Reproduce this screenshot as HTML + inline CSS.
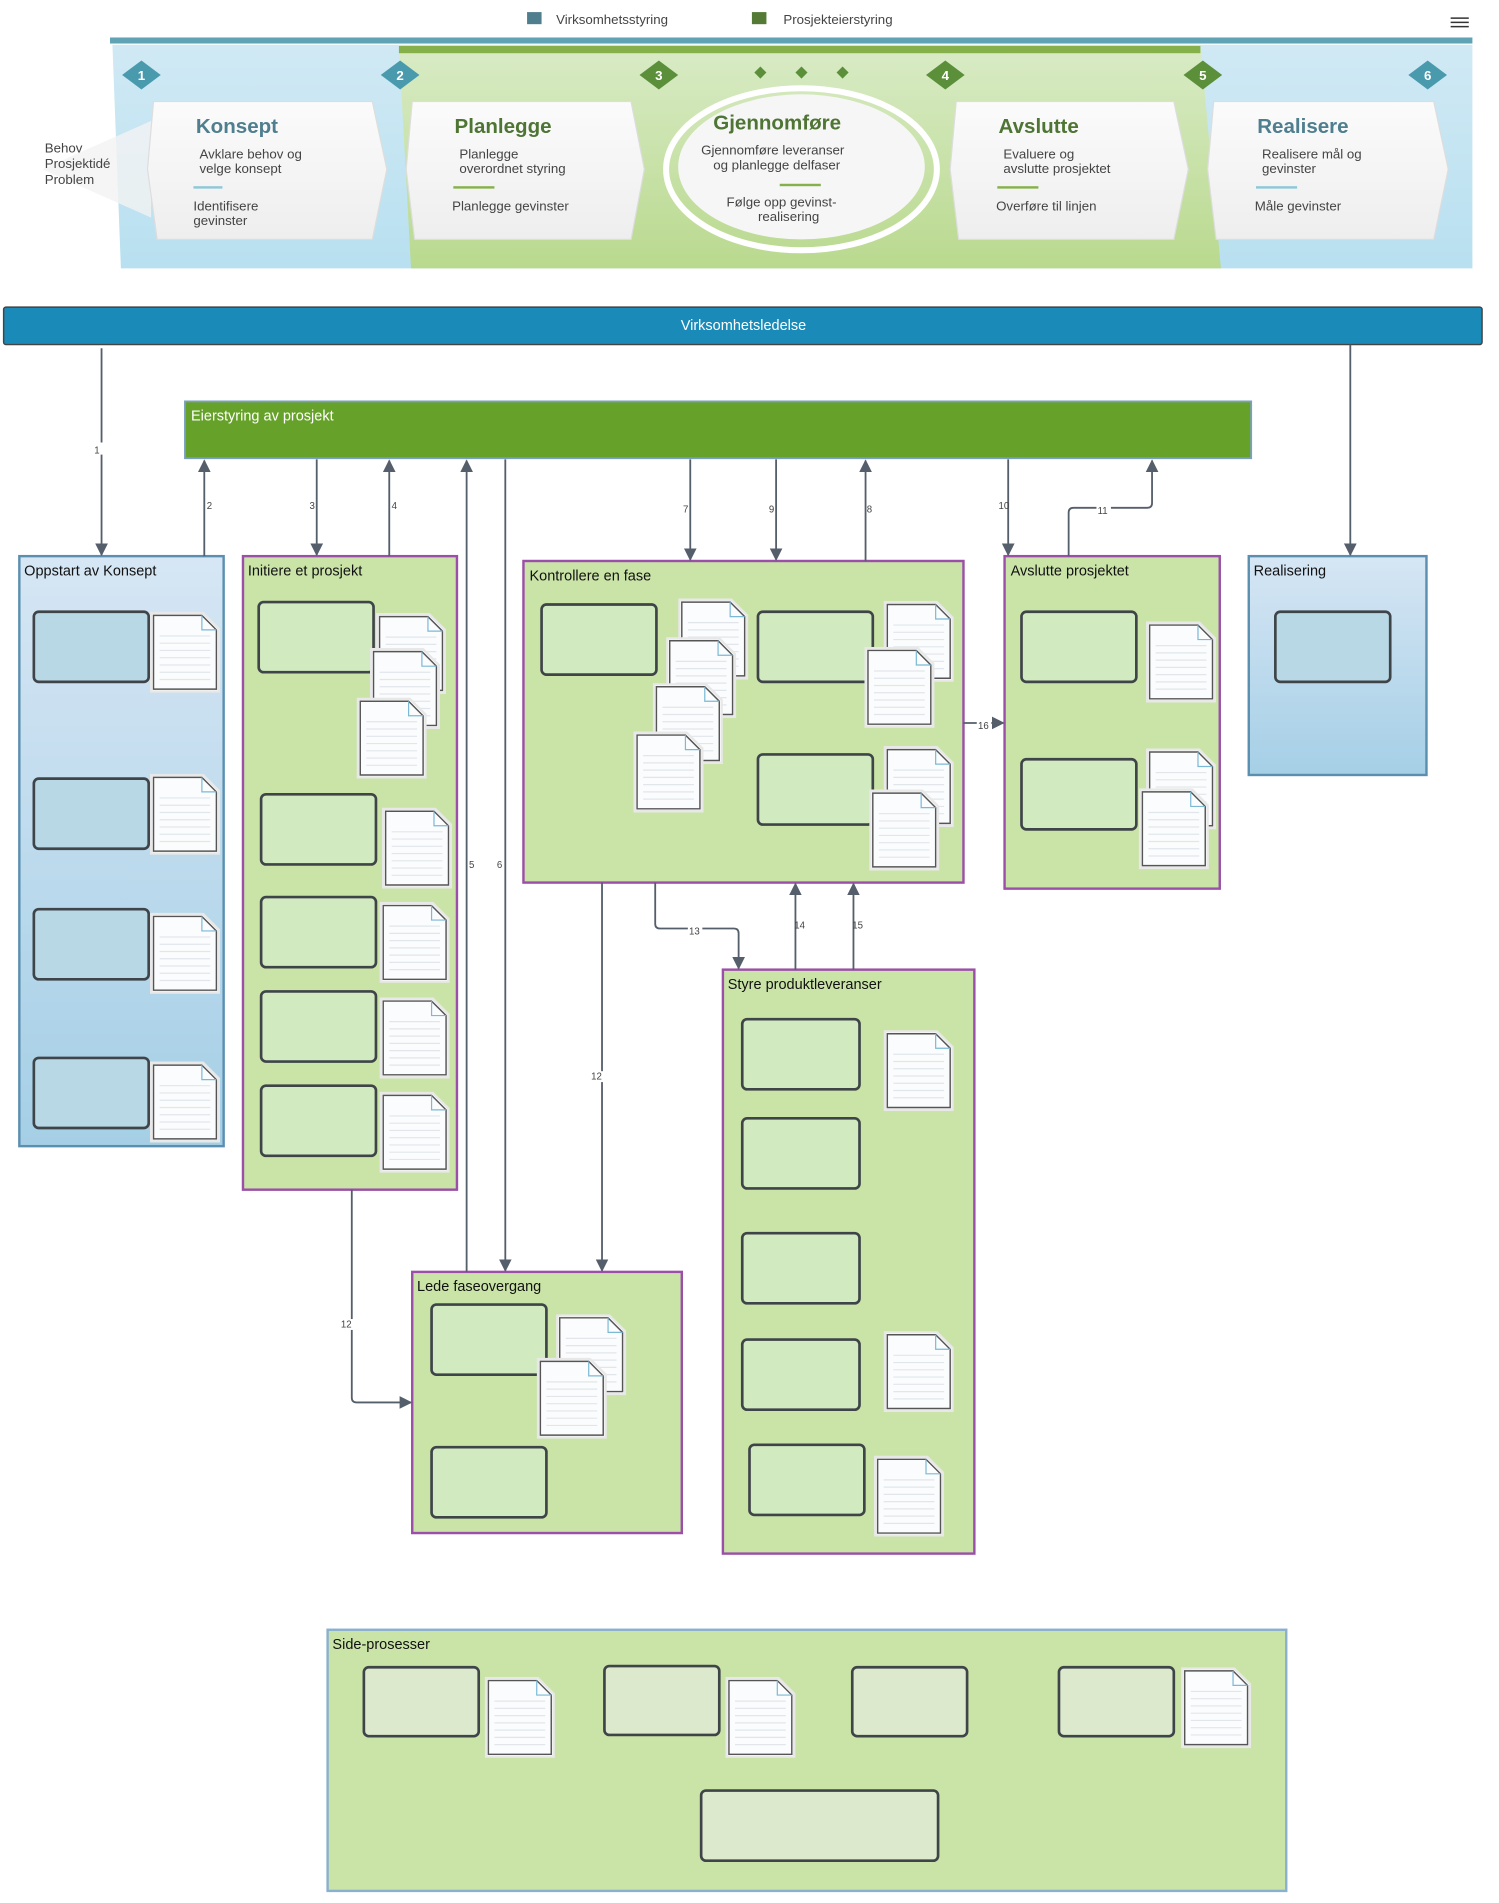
<!DOCTYPE html>
<html><head><meta charset="utf-8"><style>
html,body{margin:0;padding:0;background:#fff;}
svg{display:block;font-family:"Liberation Sans",sans-serif;}
</style></head><body>
<svg width="1499" height="1903" viewBox="0 0 1240 1574" preserveAspectRatio="none" xmlns="http://www.w3.org/2000/svg">
<defs>
<linearGradient id="gb" x1="0" y1="0" x2="0" y2="1"><stop offset="0" stop-color="#d6e6f4"/><stop offset="1" stop-color="#a5cfe6"/></linearGradient>
<linearGradient id="gg" x1="0" y1="0" x2="0" y2="1"><stop offset="0" stop-color="#d9ebc6"/><stop offset="1" stop-color="#b9d98e"/></linearGradient>
<linearGradient id="gbl" x1="0" y1="0" x2="0" y2="1"><stop offset="0" stop-color="#d0e9f4"/><stop offset="1" stop-color="#b8e0f0"/></linearGradient>
<linearGradient id="card" x1="0" y1="0" x2="0" y2="1"><stop offset="0" stop-color="#fbfbfb"/><stop offset="1" stop-color="#eeeeee"/></linearGradient>
<symbol id="doc" viewBox="0 0 58 67" width="58" height="67">
<polygon points="1,1 44,1 57,14 57,66 1,66" fill="#fff" stroke="#e8e8e8" stroke-width="2"/>
<polygon points="3,3 43,3 55,15 55,64 3,64" fill="#fbfcfd" stroke="#555" stroke-width="1.2"/>
<path d="M43,3 L43,15 L55,15" fill="none" stroke="#7bb9d6" stroke-width="1"/>
<g stroke="#e2e6ea" stroke-width="1"><line x1="8" y1="20" x2="50" y2="20"/><line x1="8" y1="26" x2="50" y2="26"/><line x1="8" y1="32" x2="50" y2="32"/><line x1="8" y1="38" x2="50" y2="38"/><line x1="8" y1="44" x2="50" y2="44"/><line x1="8" y1="50" x2="50" y2="50"/><line x1="8" y1="56" x2="50" y2="56"/></g>
</symbol>
<marker id="ar" viewBox="0 0 10 10" refX="9" refY="5" markerWidth="7" markerHeight="7" orient="auto"><path d="M0,0 L10,5 L0,10 z" fill="#555e6b"/></marker>
</defs>

<!-- legend -->
<rect x="436" y="10" width="12" height="10" fill="#4f7f8f"/>
<text x="460" y="20" font-size="11" fill="#444">Virksomhetsstyring</text>
<rect x="622" y="10" width="12" height="10" fill="#557a35"/>
<text x="648" y="20" font-size="11" fill="#444">Prosjekteierstyring</text>
<g stroke="#333" stroke-width="1.3"><line x1="1200" y1="15" x2="1215" y2="15"/><line x1="1200" y1="18.5" x2="1215" y2="18.5"/><line x1="1200" y1="22" x2="1215" y2="22"/></g>

<!-- banner -->
<rect x="91" y="31" width="1127" height="5" fill="#5fa3b5"/>
<polygon points="93,37 1218,37 1218,222 100,222" fill="url(#gbl)"/>
<polygon points="330,38 993,38 1010,222 340,222" fill="url(#gg)"/>
<rect x="330" y="38" width="663" height="6" fill="#86b14a"/>
<polygon points="35,140 125,100 125,180" fill="#f2f2f2" opacity="0.8"/>
<text font-size="11" fill="#444"><tspan x="37" y="126">Behov</tspan><tspan x="37" y="139">Prosjektidé</tspan><tspan x="37" y="152">Problem</tspan></text>

<g>
<polygon points="127,84 308,84 320,140 308,198 130,198 122,140" fill="url(#card)" stroke="#ddd"/>
<polygon points="341,84 522,84 533,140 522,198 343,198 336,140" fill="url(#card)" stroke="#ddd"/>
<polygon points="791,84 971,84 983,140 971,198 793,198 786,140" fill="url(#card)" stroke="#ddd"/>
<polygon points="1004,84 1186,84 1198,140 1186,198 1006,198 999,140" fill="url(#card)" stroke="#ddd"/>
<ellipse cx="663" cy="140" rx="112" ry="67" fill="none" stroke="#fff" stroke-width="5"/>
<ellipse cx="663" cy="138" rx="102" ry="60" fill="#f6f6f6"/>
</g>
<g font-weight="bold" font-size="17">
<text x="162" y="110" fill="#4f7f8f">Konsept</text>
<text x="376" y="110" fill="#4f7535">Planlegge</text>
<text x="590" y="107" fill="#4f7535">Gjennomføre</text>
<text x="826" y="110" fill="#4f7535">Avslutte</text>
<text x="1040" y="110" fill="#4f7f8f">Realisere</text>
</g>
<g font-size="11" fill="#444">
<text x="165" y="131">Avklare behov og</text><text x="165" y="143">velge konsept</text>
<rect x="160" y="154" width="24" height="2" fill="#8cc8d8"/>
<text x="160" y="174">Identifisere</text><text x="160" y="186">gevinster</text>
<text x="380" y="131">Planlegge</text><text x="380" y="143">overordnet styring</text>
<rect x="375" y="154" width="34" height="2" fill="#86b14a"/>
<text x="374" y="174">Planlegge gevinster</text>
<text x="580" y="128">Gjennomføre leveranser</text><text x="590" y="140">og planlegge delfaser</text>
<rect x="645" y="152" width="34" height="2" fill="#86b14a"/>
<text x="601" y="171">Følge opp gevinst-</text><text x="627" y="183">realisering</text>
<text x="830" y="131">Evaluere og</text><text x="830" y="143">avslutte prosjektet</text>
<rect x="825" y="154" width="34" height="2" fill="#86b14a"/>
<text x="824" y="174">Overføre til linjen</text>
<text x="1044" y="131">Realisere mål og</text><text x="1044" y="143">gevinster</text>
<rect x="1039" y="154" width="34" height="2" fill="#8cc8d8"/>
<text x="1038" y="174">Måle gevinster</text>
</g>
<g font-size="11" font-weight="bold" fill="#fff" text-anchor="middle">
<polygon points="117,50 133,62 117,74 101,62" fill="#4a9aae"/><text x="117" y="66">1</text>
<polygon points="331,50 347,62 331,74 315,62" fill="#4a9aae"/><text x="331" y="66">2</text>
<polygon points="545,50 561,62 545,74 529,62" fill="#5b8f3a"/><text x="545" y="66">3</text>
<polygon points="782,50 798,62 782,74 766,62" fill="#5b8f3a"/><text x="782" y="66">4</text>
<polygon points="995,50 1011,62 995,74 979,62" fill="#5b8f3a"/><text x="995" y="66">5</text>
<polygon points="1181,50 1197,62 1181,74 1165,62" fill="#4a9aae"/><text x="1181" y="66">6</text>
</g>
<g fill="#5b8f3a"><polygon points="629,55 634,60 629,65 624,60"/><polygon points="663,55 668,60 663,65 658,60"/><polygon points="697,55 702,60 697,65 692,60"/></g>

<!-- top bars -->
<rect x="3" y="254" width="1223" height="31" rx="2" fill="#1a8ab8" stroke="#444" stroke-width="1.2"/>
<text x="615" y="273" font-size="12" fill="#fff" text-anchor="middle">Virksomhetsledelse</text>
<rect x="153" y="332" width="882" height="47" fill="#66a22a" stroke="#7a9fc0" stroke-width="1.5"/>
<text x="158" y="348" font-size="12" fill="#fff">Eierstyring av prosjekt</text>

<!-- containers -->
<g stroke-width="2">
<rect x="16" y="460" width="169" height="488" fill="url(#gb)" stroke="#5b8fb0"/>
<rect x="201" y="460" width="177" height="524" fill="#cae4a8" stroke="#9b4fa8"/>
<rect x="433" y="464" width="364" height="266" fill="#cae4a8" stroke="#9b4fa8"/>
<rect x="831" y="460" width="178" height="275" fill="#cae4a8" stroke="#9b4fa8"/>
<rect x="1033" y="460" width="147" height="181" fill="url(#gb)" stroke="#5b8fb0"/>
<rect x="598" y="802" width="208" height="483" fill="#cae4a8" stroke="#9b4fa8"/>
<rect x="341" y="1052" width="223" height="216" fill="#cae4a8" stroke="#9b4fa8"/>
<rect x="271" y="1348" width="793" height="216" fill="#cae4a8" stroke="#8ab0d0"/>
</g>
<g font-size="12" fill="#111">
<text x="20" y="476">Oppstart av Konsept</text>
<text x="205" y="476">Initiere et prosjekt</text>
<text x="438" y="480">Kontrollere en fase</text>
<text x="836" y="476">Avslutte prosjektet</text>
<text x="1037" y="476">Realisering</text>
<text x="602" y="818">Styre produktleveranser</text>
<text x="345" y="1068">Lede faseovergang</text>
<text x="275" y="1364">Side-prosesser</text>
</g>

<!-- boxes -->
<g stroke="#3e4448" stroke-width="2.2">
<g fill="#b8d8e6">
<rect x="28" y="506" width="95" height="58" rx="4"/><rect x="28" y="644" width="95" height="58" rx="4"/>
<rect x="28" y="752" width="95" height="58" rx="4"/><rect x="28" y="875" width="95" height="58" rx="4"/>
<rect x="1055" y="506" width="95" height="58" rx="4"/>
</g>
<g fill="#d2eac0">
<rect x="214" y="498" width="95" height="58" rx="4"/><rect x="216" y="657" width="95" height="58" rx="4"/>
<rect x="216" y="742" width="95" height="58" rx="4"/><rect x="216" y="820" width="95" height="58" rx="4"/>
<rect x="216" y="898" width="95" height="58" rx="4"/>
<rect x="448" y="500" width="95" height="58" rx="4"/><rect x="627" y="506" width="95" height="58" rx="4"/>
<rect x="627" y="624" width="95" height="58" rx="4"/>
<rect x="845" y="506" width="95" height="58" rx="4"/><rect x="845" y="628" width="95" height="58" rx="4"/>
<rect x="614" y="843" width="97" height="58" rx="4"/><rect x="614" y="925" width="97" height="58" rx="4"/>
<rect x="614" y="1020" width="97" height="58" rx="4"/><rect x="614" y="1108" width="97" height="58" rx="4"/>
<rect x="620" y="1195" width="95" height="58" rx="4"/>
<rect x="357" y="1079" width="95" height="58" rx="4"/><rect x="357" y="1197" width="95" height="58" rx="4"/>
</g>
<g fill="#dce9cc">
<rect x="301" y="1379" width="95" height="57" rx="4"/><rect x="500" y="1378" width="95" height="57" rx="4"/>
<rect x="705" y="1379" width="95" height="57" rx="4"/><rect x="876" y="1379" width="95" height="57" rx="4"/>
<rect x="580" y="1481" width="196" height="58" rx="4"/>
</g>
</g>

<!-- docs -->
<use href="#doc" x="124" y="506"/><use href="#doc" x="124" y="640"/><use href="#doc" x="124" y="755"/><use href="#doc" x="124" y="878"/>
<use href="#doc" x="311" y="507"/><use href="#doc" x="306" y="536"/><use href="#doc" x="295" y="577"/>
<use href="#doc" x="316" y="668"/><use href="#doc" x="314" y="746"/><use href="#doc" x="314" y="825"/><use href="#doc" x="314" y="903"/>
<use href="#doc" x="561" y="495"/><use href="#doc" x="551" y="527"/><use href="#doc" x="540" y="565"/><use href="#doc" x="524" y="605"/>
<use href="#doc" x="731" y="497"/><use href="#doc" x="715" y="535"/>
<use href="#doc" x="731" y="617"/><use href="#doc" x="719" y="653"/>
<use href="#doc" x="948" y="514"/><use href="#doc" x="948" y="619"/><use href="#doc" x="942" y="652"/>
<use href="#doc" x="731" y="852"/><use href="#doc" x="731" y="1101"/><use href="#doc" x="723" y="1204"/>
<use href="#doc" x="460" y="1087"/><use href="#doc" x="444" y="1123"/>
<use href="#doc" x="401" y="1387"/><use href="#doc" x="600" y="1387"/><use href="#doc" x="977" y="1379"/>

<!-- connectors -->
<g stroke="#555e6b" stroke-width="1.5" fill="none" marker-end="url(#ar)">
<line x1="84" y1="288" x2="84" y2="459"/>
<line x1="169" y1="460" x2="169" y2="381"/>
<line x1="262" y1="380" x2="262" y2="459"/>
<line x1="322" y1="460" x2="322" y2="381"/>
<line x1="386" y1="1052" x2="386" y2="381"/>
<line x1="418" y1="380" x2="418" y2="1051"/>
<line x1="571" y1="380" x2="571" y2="463"/>
<line x1="642" y1="380" x2="642" y2="463"/>
<path d="M716,464 L716,381"/>
<line x1="834" y1="380" x2="834" y2="459"/>
<path d="M884,460 L884,424 Q884,420 888,420 L949,420 Q953,420 953,416 L953,381"/>
<line x1="1117" y1="285" x2="1117" y2="459"/>
<line x1="797" y1="598" x2="830" y2="598"/>
<path d="M542,730 L542,764 Q542,768 546,768 L607,768 Q611,768 611,772 L611,801"/>
<line x1="658" y1="802" x2="658" y2="731"/>
<line x1="706" y1="802" x2="706" y2="731"/>
<line x1="498" y1="730" x2="498" y2="1051"/>
<path d="M291,984 L291,1156 Q291,1160 295,1160 L340,1160"/>
</g>
<g font-size="8" fill="#444">
<rect x="77" y="366" width="8" height="10" fill="#fff"/><text x="78" y="375">1</text>
<text x="171" y="421">2</text><text x="256" y="421">3</text><text x="324" y="421">4</text>
<text x="388" y="718">5</text><text x="411" y="718">6</text>
<text x="565" y="424">7</text><text x="636" y="424">9</text><text x="717" y="424">8</text>
<text x="826" y="421">10</text>
<rect x="907" y="417" width="12" height="9" fill="#fff"/><text x="908" y="425">11</text>
<rect x="808" y="595" width="12" height="9" fill="#fff"/><text x="809" y="603">16</text>
<rect x="569" y="766" width="12" height="9" fill="#fff"/><text x="570" y="773">13</text>
<text x="657" y="768">14</text><text x="705" y="768">15</text>
<rect x="488" y="886" width="12" height="9" fill="#fff"/><text x="489" y="893">12</text>
<rect x="281" y="1091" width="12" height="9" fill="#fff"/><text x="282" y="1098">12</text>
</g>
</svg>
</body></html>
